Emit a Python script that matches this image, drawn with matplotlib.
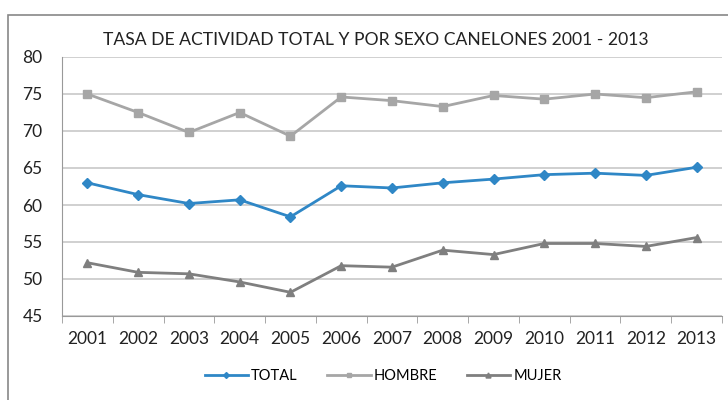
import numpy as np
import matplotlib.pyplot as plt
from matplotlib.patches import Rectangle

years = ['2001', '2002', '2003', '2004', '2005', '2006', '2007',
         '2008', '2009', '2010', '2011', '2012', '2013']
total = [63.0, 61.4, 60.2, 60.7, 58.4, 62.6, 62.3, 63.0, 63.5, 64.1, 64.3, 64.0, 65.1]
hombre = [75.0, 72.5, 69.8, 72.5, 69.3, 74.6, 74.1, 73.3, 74.8, 74.3, 75.0, 74.5, 75.3]
mujer = [52.2, 50.9, 50.7, 49.6, 48.2, 51.8, 51.6, 53.9, 53.3, 54.8, 54.8, 54.4, 55.6]
yticks = [45, 50, 55, 60, 65, 70, 75, 80]

plt.rcParams['font.family'] = ['Lato', 'DejaVu Sans']

fig = plt.figure(figsize=(7.28, 4.0), dpi=100)
ax = fig.add_axes([62 / 728, 1 - 316 / 400, 660 / 728, 259 / 400])

# chart border
fig.patches.append(Rectangle((8 / 728, -0.01), 730 / 728, 1 - 15 / 400 + 0.01,
                             transform=fig.transFigure, fill=False,
                             edgecolor='#888888', linewidth=1.2))

x = np.arange(len(years))
ax.plot(x, total, color='#2f87c6', lw=2.0, marker='D', ms=5, label='TOTAL', zorder=4)
ax.plot(x, hombre, color='#a6a6a6', lw=2.0, marker='s', ms=6, label='HOMBRE', zorder=3)
ax.plot(x, mujer, color='#7f7f7f', lw=2.0, marker='^', ms=6, label='MUJER', zorder=3)

ax.set_xlim(-0.5, len(years) - 0.5)
ax.set_ylim(45, 80)
ax.set_yticks(yticks)
ax.set_xticks(x)
ax.set_xticklabels(years)
ax.set_xticks(np.arange(-0.5, len(years), 1), minor=True)
ax.tick_params(axis='x', which='major', length=0, pad=11, labelsize=12.5, colors='#222222')
ax.tick_params(axis='x', which='minor', length=5, color='#999999')
ax.tick_params(axis='y', length=0, pad=14, labelsize=12.5, colors='#222222')
ax.grid(axis='y', color='#c8c8c8', lw=1.2)
ax.set_axisbelow(True)
for s in ['top', 'right']:
    ax.spines[s].set_visible(False)
ax.spines['left'].set_color('#999999')
ax.spines['bottom'].set_color('#999999')

fig.text(376 / 728, 1 - 40 / 400, 'TASA DE ACTIVIDAD TOTAL Y POR SEXO CANELONES 2001 - 2013',
         ha='center', va='center', fontsize=12.6, color='#222222')

fig.legend(loc='center', bbox_to_anchor=(383 / 728, 1 - 376 / 400), ncol=3,
           frameon=False, fontsize=10.5, handlelength=3.0, handletextpad=0.2,
           columnspacing=2.0, markerscale=0.6)

fig.savefig('out.png', dpi=100)
